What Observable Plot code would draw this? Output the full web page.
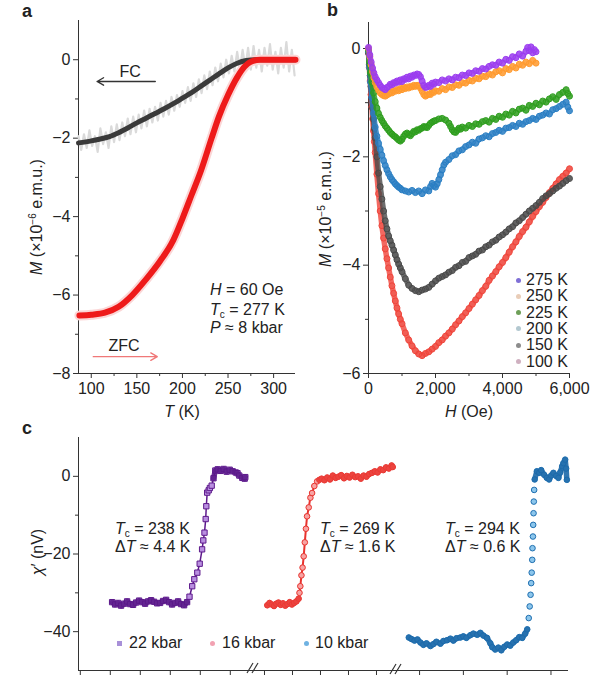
<!DOCTYPE html>
<html><head><meta charset="utf-8">
<script src="https://cdn.jsdelivr.net/npm/d3@7"></script>
<script src="https://cdn.jsdelivr.net/npm/@observablehq/plot@0.6"></script>
<style>
body{margin:0;background:#fff;}
#fig{position:relative;width:600px;height:677px;overflow:hidden;font-family:"Liberation Sans",Arial,Helvetica,sans-serif;color:#222;background:#fff;}
#fig svg{position:absolute;overflow:visible;}
.t{position:absolute;white-space:nowrap;font-size:16px;line-height:16px;}
.lt{font-weight:bold;font-size:18px;line-height:18px;}
.rot{transform:translate(-50%,-50%) rotate(-90deg);}
sub{font-size:10px;vertical-align:-3px;line-height:0;}
sup{font-size:10px;vertical-align:6px;line-height:0;}
i{font-style:italic;}
.mk{position:absolute;width:5px;height:5px;border-radius:50%;}
</style></head><body><div id="fig"></div>
<script>
// ---------- Panel a data (T in K, M in 1e-6 emu) ----------
const fcT  = [86,100,110,120,130,140,150,160,170,180,190,200,210,220,230,240,250,260,270,280,300,324];
const fcM  = [-2.12,-2.07,-2.02,-1.96,-1.86,-1.74,-1.61,-1.49,-1.37,-1.25,-1.12,-0.98,-0.84,-0.68,-0.52,-0.36,-0.21,-0.09,-0.02,0,0,0];
const zfcT = [87,100,115,130,145,160,175,190,200,210,220,232,240,250,260,268,275,285,300,324];
const zfcM = [-6.52,-6.5,-6.45,-6.3,-6.0,-5.6,-5.15,-4.6,-4.05,-3.45,-2.85,-2.0,-1.45,-0.9,-0.45,-0.18,-0.05,0,0,0];
const fcRawT = [86,89,92,95,98,101,104,107,110,113,116,119,122,125,128,131,134,137,140,143,146,149,152,155,158,161,164,167,170,173,176,179,182,185,188,191,194,197,200,203,206,209,212,215,218,221,224,227,230,233,236,239,242,245,248,251,254,257,260,263,266,269,272,275,278,281,284,287,290,293,296,299,302,305,308,311,314,317,320,323];
const fcRawM = [-1.95,-2.30,-1.90,-2.25,-1.80,-2.20,-1.95,-2.35,-1.75,-2.15,-1.85,-2.25,-1.70,-2.10,-1.65,-2.05,-1.60,-1.95,-1.50,-1.90,-1.45,-1.85,-1.40,-1.75,-1.30,-1.70,-1.25,-1.60,-1.20,-1.55,-1.10,-1.45,-1.05,-1.40,-0.95,-1.30,-0.90,-1.20,-0.80,-1.10,-0.70,-1.05,-0.60,-0.95,-0.50,-0.85,-0.40,-0.75,-0.30,-0.65,-0.20,-0.55,-0.10,-0.45,0.00,-0.35,0.10,-0.30,0.20,-0.25,0.25,-0.20,0.30,-0.25,0.35,-0.20,0.25,-0.30,0.30,-0.15,0.40,-0.25,0.20,-0.35,0.30,-0.20,0.45,-0.30,0.25,-0.40];
const aYTicks = [0,-2,-4,-6,-8], aYMinor = [-1,-3,-5,-7];
const aXTicks = [100,150,200,250,300], aXMinor = [125,175,225,275];
const aArrows = [{x1:170.2,x2:106.4,y1:-0.555,y2:-0.555,c:"#333"},{x1:102.2,x2:172.4,y1:-7.57,y2:-7.57,c:"#f07878"}];
const aLabels = [{T:142.6,M:-0.30,s:"FC"},{T:136,M:-7.29,s:"ZFC"}];

// ---------- Panel b data (H in Oe, M in 1e-5 emu) ----------
const b275 = [[0,0.02],[40,-0.12],[80,-0.25],[120,-0.36],[160,-0.45],[200,-0.52],[250,-0.58],[300,-0.63],[350,-0.68],[400,-0.72],[450,-0.74],[500,-0.76],[550,-0.72],[600,-0.70],[650,-0.66],[700,-0.67],[750,-0.63],[800,-0.64],[850,-0.60],[900,-0.62],[950,-0.58],[1000,-0.61],[1050,-0.56],[1100,-0.57],[1150,-0.53],[1200,-0.56],[1250,-0.51],[1300,-0.53],[1350,-0.49],[1400,-0.50],[1450,-0.47],[1500,-0.48],[1550,-0.52],[1600,-0.60],[1650,-0.68],[1700,-0.72],[1750,-0.71],[1800,-0.68],[1850,-0.70],[1900,-0.64],[1950,-0.66],[2000,-0.62],[2100,-0.63],[2200,-0.58],[2300,-0.60],[2400,-0.56],[2500,-0.58],[2600,-0.53],[2700,-0.54],[2800,-0.49],[2900,-0.50],[3000,-0.45],[3100,-0.46],[3200,-0.41],[3300,-0.42],[3400,-0.37],[3500,-0.38],[3600,-0.33],[3700,-0.30],[3800,-0.31],[3900,-0.25],[4000,-0.27],[4100,-0.20],[4200,-0.22],[4300,-0.15],[4400,-0.17],[4500,-0.10],[4600,-0.14],[4700,-0.05],[4750,0.02],[4800,-0.04],[4850,0.03],[4900,-0.08],[4950,-0.02],[5000,-0.06]];
const b250 = [[0,0.0],[40,-0.15],[80,-0.3],[120,-0.43],[160,-0.54],[200,-0.63],[250,-0.71],[300,-0.77],[350,-0.82],[400,-0.85],[450,-0.87],[500,-0.88],[550,-0.86],[600,-0.84],[650,-0.81],[700,-0.82],[750,-0.78],[800,-0.79],[850,-0.76],[900,-0.78],[950,-0.74],[1000,-0.76],[1050,-0.72],[1100,-0.74],[1150,-0.71],[1200,-0.73],[1250,-0.70],[1300,-0.71],[1350,-0.68],[1400,-0.70],[1450,-0.68],[1500,-0.69],[1550,-0.73],[1600,-0.79],[1650,-0.85],[1700,-0.88],[1750,-0.86],[1800,-0.84],[1850,-0.85],[1900,-0.80],[1950,-0.81],[2000,-0.78],[2100,-0.79],[2200,-0.74],[2300,-0.76],[2400,-0.71],[2500,-0.72],[2600,-0.67],[2700,-0.68],[2800,-0.63],[2900,-0.64],[3000,-0.59],[3100,-0.60],[3200,-0.55],[3300,-0.56],[3400,-0.51],[3500,-0.52],[3600,-0.47],[3700,-0.49],[3800,-0.43],[3900,-0.41],[4000,-0.45],[4100,-0.37],[4200,-0.39],[4300,-0.33],[4400,-0.36],[4500,-0.29],[4600,-0.31],[4700,-0.25],[4800,-0.28],[4900,-0.22],[5000,-0.27]];
const b225 = [[0,-0.03],[30,-0.25],[60,-0.45],[100,-0.62],[150,-0.82],[200,-0.98],[250,-1.1],[300,-1.2],[350,-1.27],[400,-1.33],[450,-1.38],[500,-1.43],[550,-1.47],[600,-1.51],[650,-1.55],[700,-1.58],[750,-1.61],[800,-1.63],[850,-1.66],[900,-1.69],[950,-1.71],[1000,-1.68],[1050,-1.62],[1100,-1.58],[1150,-1.56],[1200,-1.59],[1250,-1.61],[1300,-1.57],[1350,-1.53],[1400,-1.54],[1450,-1.50],[1500,-1.51],[1550,-1.48],[1600,-1.47],[1650,-1.44],[1700,-1.45],[1750,-1.46],[1800,-1.42],[1850,-1.38],[1900,-1.36],[1950,-1.34],[2000,-1.33],[2100,-1.30],[2200,-1.29],[2300,-1.32],[2400,-1.38],[2450,-1.44],[2500,-1.50],[2550,-1.54],[2600,-1.55],[2650,-1.51],[2700,-1.47],[2750,-1.49],[2800,-1.45],[2900,-1.47],[3000,-1.42],[3100,-1.44],[3200,-1.39],[3300,-1.40],[3400,-1.35],[3500,-1.33],[3600,-1.36],[3700,-1.29],[3800,-1.31],[3900,-1.25],[4000,-1.27],[4100,-1.21],[4200,-1.23],[4300,-1.16],[4400,-1.19],[4500,-1.12],[4600,-1.10],[4700,-1.14],[4800,-1.05],[4900,-1.07],[5000,-1.01],[5100,-1.04],[5200,-0.97],[5300,-0.99],[5400,-0.93],[5500,-0.89],[5600,-0.94],[5700,-0.85],[5800,-0.81],[5900,-0.76],[5950,-0.83],[6000,-0.88]];
const b200 = [[0,-0.05],[30,-0.35],[60,-0.62],[100,-0.9],[150,-1.2],[200,-1.45],[250,-1.62],[300,-1.75],[350,-1.86],[400,-1.97],[450,-2.07],[500,-2.16],[550,-2.24],[600,-2.31],[650,-2.37],[700,-2.42],[750,-2.46],[800,-2.50],[850,-2.53],[900,-2.56],[950,-2.58],[1000,-2.61],[1100,-2.63],[1200,-2.65],[1300,-2.62],[1400,-2.66],[1500,-2.63],[1600,-2.68],[1700,-2.61],[1800,-2.63],[1850,-2.55],[1900,-2.49],[1950,-2.53],[2000,-2.56],[2050,-2.50],[2100,-2.42],[2150,-2.33],[2200,-2.24],[2250,-2.15],[2300,-2.10],[2400,-2.05],[2500,-1.98],[2600,-1.96],[2700,-1.89],[2800,-1.87],[2900,-1.81],[3000,-1.78],[3100,-1.73],[3200,-1.75],[3300,-1.67],[3400,-1.65],[3500,-1.61],[3600,-1.63],[3700,-1.57],[3800,-1.55],[3900,-1.51],[4000,-1.53],[4100,-1.47],[4200,-1.46],[4300,-1.42],[4400,-1.44],[4500,-1.38],[4600,-1.40],[4700,-1.35],[4800,-1.33],[4900,-1.29],[5000,-1.31],[5100,-1.25],[5200,-1.23],[5300,-1.19],[5400,-1.21],[5500,-1.13],[5600,-1.11],[5700,-1.07],[5800,-1.03],[5900,-0.99],[5950,-1.08],[6000,-1.15]];
const b150 = [[0,-0.08],[25,-0.3],[50,-0.5],[75,-0.7],[100,-0.9],[125,-1.1],[150,-1.3],[175,-1.48],[200,-1.65],[250,-2.0],[300,-2.3],[350,-2.55],[400,-2.78],[450,-3.0],[500,-3.18],[550,-3.33],[600,-3.46],[650,-3.55],[700,-3.63],[750,-3.72],[800,-3.81],[850,-3.9],[900,-3.98],[950,-4.05],[1000,-4.12],[1100,-4.25],[1200,-4.37],[1300,-4.43],[1400,-4.47],[1500,-4.49],[1600,-4.46],[1700,-4.44],[1800,-4.41],[1900,-4.35],[2000,-4.29],[2100,-4.24],[2200,-4.21],[2300,-4.18],[2400,-4.13],[2500,-4.10],[2600,-4.04],[2700,-4.01],[2800,-3.95],[2900,-3.93],[3000,-3.86],[3100,-3.83],[3200,-3.80],[3300,-3.74],[3400,-3.72],[3500,-3.66],[3600,-3.63],[3700,-3.57],[3800,-3.54],[3900,-3.48],[4000,-3.44],[4100,-3.39],[4200,-3.33],[4300,-3.29],[4400,-3.22],[4500,-3.18],[4600,-3.12],[4700,-3.06],[4800,-3.00],[4900,-2.95],[5000,-2.90],[5100,-2.84],[5200,-2.77],[5300,-2.72],[5400,-2.68],[5500,-2.63],[5600,-2.58],[5700,-2.54],[5800,-2.49],[5900,-2.44],[6000,-2.40]];
const b100 = [[0,-0.08],[25,-0.35],[50,-0.6],[75,-0.85],[100,-1.08],[125,-1.3],[150,-1.52],[175,-1.72],[200,-1.92],[250,-2.32],[300,-2.68],[350,-3.0],[400,-3.27],[450,-3.5],[500,-3.7],[550,-3.88],[600,-4.05],[650,-4.22],[700,-4.38],[750,-4.52],[800,-4.66],[850,-4.79],[900,-4.9],[950,-5.0],[1000,-5.08],[1100,-5.25],[1200,-5.38],[1300,-5.49],[1400,-5.58],[1500,-5.64],[1600,-5.67],[1700,-5.63],[1800,-5.60],[1900,-5.55],[2000,-5.50],[2100,-5.43],[2200,-5.38],[2300,-5.31],[2400,-5.25],[2500,-5.18],[2600,-5.10],[2700,-5.03],[2800,-4.95],[2900,-4.88],[3000,-4.80],[3100,-4.72],[3200,-4.64],[3300,-4.56],[3400,-4.47],[3500,-4.39],[3600,-4.28],[3700,-4.20],[3800,-4.12],[3900,-4.03],[4000,-3.95],[4100,-3.86],[4200,-3.76],[4300,-3.66],[4400,-3.57],[4500,-3.47],[4600,-3.38],[4700,-3.30],[4800,-3.20],[4900,-3.10],[5000,-3.01],[5100,-2.92],[5200,-2.84],[5300,-2.75],[5400,-2.66],[5500,-2.58],[5600,-2.50],[5700,-2.42],[5800,-2.36],[5900,-2.30],[6000,-2.22]];
const bLabels = ["275 K","250 K","225 K","200 K","150 K","100 K"];
const bColors = ["#9b3cf0","#ff9a2e","#2e9e1e","#2a7fc4","#4a4a4a","#f0443a"];
const bLegendColors = ["#7f6fd6","#e9cdb8","#6e9f58","#b3c8d0","#8c8c8c","#cfb0c0"];
const bYTicks = [0,-2,-4,-6], bYMinor = [-1,-3,-5];
const bXTicks = [0,2000,4000,6000], bXMinor = [1000,3000,5000];

// ---------- Panel c data (T in K, chi' in nV) ----------
const c22 = [[220.3,-32.4],[220.8,-33.0],[221.3,-32.6],[221.8,-33.3],[222.3,-32.8],[222.8,-32.2],[223.3,-32.9],[223.8,-33.1],[224.3,-32.5],[224.8,-32.0],[225.3,-32.4],[225.8,-32.8],[226.3,-32.2],[226.8,-31.9],[227.3,-32.3],[227.8,-32.7],[228.3,-32.6],[228.8,-32.1],[229.3,-31.8],[229.8,-32.4],[230.3,-33.0],[230.8,-32.6],[231.3,-32.2],[231.8,-32.9],[232.3,-33.2],[232.8,-32.4],[233.2,-31.0],[233.65,-28.3],[234.0,-26.5],[234.5,-24.8],[234.9,-22.5],[235.3,-18.8],[235.5,-16.5],[235.7,-14.5],[235.9,-11.0],[236.0,-7.7],[236.15,-4.2],[236.4,-3.6],[236.6,-3.0],[236.9,-2.4],[237.2,-0.5],[237.5,1.5],[237.9,1.8],[238.4,1.4],[238.9,1.9],[239.4,1.2],[239.9,1.7],[240.4,1.3],[240.9,1.0],[241.2,0.8],[241.5,0.2],[242.0,-0.4],[242.4,-0.6],[242.5,-0.2]];
const c16 = [[260.5,-33.2],[260.9,-32.6],[261.3,-33.0],[261.7,-33.4],[262.1,-32.8],[262.5,-32.5],[262.9,-33.1],[263.3,-32.7],[263.7,-33.3],[264.1,-32.9],[264.5,-32.4],[264.9,-33.0],[265.3,-32.6],[265.7,-32.2],[266.1,-31.5],[266.25,-30.0],[266.4,-28.3],[266.6,-25.5],[266.8,-23.5],[267.0,-20.6],[267.2,-17.0],[267.4,-13.5],[267.6,-10.3],[267.9,-8.0],[268.2,-5.5],[268.5,-4.3],[268.9,-2.5],[269.4,-1.3],[269.8,-0.9],[270.2,-0.6],[270.7,-1.0],[271.2,-0.3],[271.7,-0.8],[272.2,0.2],[272.7,-0.4],[273.2,-0.1],[273.7,0.3],[274.2,-0.5],[274.7,0.1],[275.2,-0.3],[275.7,0.4],[276.2,-0.2],[276.7,0.0],[277.2,-0.6],[277.7,0.2],[278.2,-0.1],[278.7,0.6],[279.2,0.9],[279.7,1.3],[280.2,1.0],[280.7,1.8],[281.2,1.6],[281.7,2.3],[282.2,2.0],[282.7,2.8],[282.9,2.4]];
const c10 = [[283.77,-41.5],[284.08,-41.9],[284.42,-42.3],[284.76,-42.0],[285.10,-42.8],[285.44,-43.4],[285.79,-43.0],[286.24,-43.7],[286.58,-43.2],[286.92,-42.6],[287.38,-43.1],[287.72,-42.4],[288.14,-42.2],[288.52,-41.8],[288.86,-42.3],[289.20,-41.7],[289.66,-41.5],[290.0,-41.2],[290.34,-41.6],[290.80,-40.9],[291.14,-40.5],[291.59,-40.8],[291.94,-40.3],[292.28,-41.0],[292.70,-41.6],[293.08,-43.0],[293.30,-44.0],[293.64,-44.6],[293.99,-44.1],[294.33,-44.8],[294.67,-43.9],[295.01,-43.3],[295.35,-43.6],[295.69,-42.8],[296.03,-42.2],[296.38,-41.4],[296.72,-41.6],[297.06,-40.5],[297.29,-39.4],[297.46,-36.5],[297.57,-33.5],[297.67,-30.5],[297.74,-27.5],[297.80,-24.8],[297.86,-21.5],[297.89,-18.5],[297.94,-15.5],[297.97,-12.5],[298.01,-9.5],[298.04,-6.5],[298.08,-3.5],[298.14,-0.8],[298.39,1.3],[298.66,0.9],[298.88,1.6],[299.22,0.4],[299.53,-0.4],[299.79,-0.8],[300.02,0.2],[300.28,0.9],[300.59,0.1],[300.85,-0.4],[301.05,1.0],[301.28,2.6],[301.42,3.4],[301.62,4.3],[301.73,2.0],[301.81,-0.9]];
const cYTicks = [0,-20,-40], cYMinor = [-10,-30];
const c1Domain = [214.7,243.7], c2Domain = [257.86,283.75], c3Domain = [282.48,302];
const c1Ticks = [215,220,225,230,235,240], c2Ticks = [260,265,270,275,280], c3Ticks = [285,290,295,300];
const cLegend = ["22 kbar","16 kbar","10 kbar"];

// ---------- helpers ----------
const fig = document.getElementById("fig");
const FONT = "Liberation Sans, Arial, Helvetica, sans-serif";
const baseStyle = {fontFamily: FONT, fontSize: "16px", color: "#222", background: "none", overflow: "visible"};
function place(svg, left, top){ svg.style.left = left+"px"; svg.style.top = top+"px"; fig.appendChild(svg); }
function txt(html, left, top, cls="t", align="start"){
  const d = document.createElement("div"); d.className = cls; d.innerHTML = html;
  d.style.left = left+"px"; d.style.top = top+"px";
  if (align === "middle") d.style.transform = "translateX(-50%)";
  fig.appendChild(d); return d;
}
function rot(html, cx, cy){
  const d = document.createElement("div"); d.className = "t rot"; d.innerHTML = html;
  d.style.left = cx+"px"; d.style.top = cy+"px"; fig.appendChild(d);
}
const blank = () => "";
const intFmt = d3.format("d");
const toObj = (arr, k1, k2) => arr.map(d => ({[k1]: d[0], [k2]: d[1]}));

// ---------- Panel a ----------
const fc = fcT.map((t,i)=>({T:t, M:fcM[i]}));
const zfc = zfcT.map((t,i)=>({T:t, M:zfcM[i]}));
const fcRaw = fcRawT.map((t,i)=>({T:t, M:fcRawM[i]}));
place(Plot.plot({
  width: 300, height: 420, marginLeft: 78, marginRight: 5, marginTop: 20, marginBottom: 47,
  style: baseStyle,
  x: {domain: [86, 324]}, y: {domain: [-8, 1]},
  marks: [
    Plot.axisY({ticks: aYTicks, tickSize: 5, tickPadding: 3, label: null, fontSize: 16, tickFormat: intFmt, stroke: "#333"}),
    Plot.axisY({ticks: aYMinor, tickSize: 3, tickFormat: blank, label: null, stroke: "#333"}),
    Plot.axisX({ticks: aXTicks, tickSize: 5, tickPadding: 4, label: null, fontSize: 16, tickFormat: intFmt, stroke: "#333"}),
    Plot.axisX({ticks: aXMinor, tickSize: 3, tickFormat: blank, label: null, stroke: "#333"}),
    Plot.ruleX([86], {stroke: "#333"}), Plot.ruleY([-8], {stroke: "#333"}),
    Plot.line(fcRaw, {x: "T", y: "M", stroke: "#dadada", strokeWidth: 2.2}),
    Plot.line(zfc, {x: "T", y: "M", stroke: "#fbd6d6", strokeWidth: 10, curve: "monotone-x"}),
    Plot.line(fc, {x: "T", y: "M", stroke: "#3a3a3a", strokeWidth: 5, curve: "monotone-x"}),
    Plot.line(zfc, {x: "T", y: "M", stroke: "#ee1a1a", strokeWidth: 6, curve: "monotone-x"}),
    Plot.arrow(aArrows, {x1: "x1", x2: "x2", y1: "y1", y2: "y2", stroke: "c", strokeWidth: 1.4, headLength: 8}),
    Plot.text(aLabels, {x: "T", y: "M", text: "s", fontSize: 16, fill: "#222"})
  ]
}), 0, 0);

// ---------- Panel b ----------
const bSeries = [b100, b150, b200, b225, b250, b275];
const bIdx = [5,4,3,2,1,0];
const bMarks = [];
bSeries.forEach((s, j) => {
  const col = bColors[bIdx[j]];
  const data = toObj(s, "H", "M");
  bMarks.push(Plot.line(data, {x: "H", y: "M", stroke: col, strokeWidth: 5.5, strokeOpacity: 0.8}));
  bMarks.push(Plot.dot(data, {x: "H", y: "M", r: 3, fill: col, fillOpacity: 0.3, stroke: col, strokeWidth: 1}));
});
place(Plot.plot({
  width: 300, height: 420, marginLeft: 68, marginRight: 31, marginTop: 22, marginBottom: 47,
  style: baseStyle,
  x: {domain: [0, 6000]}, y: {domain: [-6, 0.48]},
  marks: [
    Plot.axisY({ticks: bYTicks, tickSize: 5, tickPadding: 3, label: null, fontSize: 16, tickFormat: intFmt, stroke: "#333"}),
    Plot.axisY({ticks: bYMinor, tickSize: 3, tickFormat: blank, label: null, stroke: "#333"}),
    Plot.axisX({ticks: bXTicks, tickSize: 5, tickPadding: 4, label: null, fontSize: 16, tickFormat: d3.format(","), stroke: "#333"}),
    Plot.axisX({ticks: bXMinor, tickSize: 3, tickFormat: blank, label: null, stroke: "#333"}),
    Plot.ruleX([0], {stroke: "#333"}), Plot.ruleY([-6], {stroke: "#333"}),
    ...bMarks
  ]
}), 300, 0);

// ---------- Panel c ----------
const cTop = 400, cH = 277, cMT = 37, cMB = 7;
function cPlot(opts, marks){
  return Plot.plot(Object.assign({height: cH, marginTop: cMT, marginBottom: cMB, style: baseStyle,
    y: {domain: [-50, 10], axis: null}}, opts, {marks}));
}
const d22 = toObj(c22, "T", "X"), d16 = toObj(c16, "T", "X"), d10 = toObj(c10, "T", "X");
// the dense plateaus below and above each step (drawn as a dark band over the markers)
const below = (d, v) => d.filter(p => p.X < v), above = (d, v) => d.filter(p => p.X > v);
const band = (d, lo, hi, col, w) => [
  Plot.line(below(d, lo), {x: "T", y: "X", stroke: col, strokeWidth: w, strokeOpacity: 0.9}),
  Plot.line(above(d, hi), {x: "T", y: "X", stroke: col, strokeWidth: w, strokeOpacity: 0.9})
];
place(cPlot({width: 252, marginLeft: 78, marginRight: 0, x: {domain: c1Domain}}, [
  Plot.axisY({ticks: cYTicks, tickSize: 5, tickPadding: 3, label: null, fontSize: 16, tickFormat: intFmt, stroke: "#333"}),
  Plot.axisY({ticks: cYMinor, tickSize: 3, tickFormat: blank, label: null, stroke: "#333"}),
  Plot.axisX({ticks: c1Ticks, tickSize: 5, tickFormat: blank, label: null, stroke: "#333"}),
  Plot.ruleX([c1Domain[0]], {stroke: "#333"}), Plot.ruleY([-50], {stroke: "#333"}),
  Plot.line(d22, {x: "T", y: "X", stroke: "#5e1a8c", strokeWidth: 1.5}),
  Plot.dot(d22, {x: "T", y: "X", symbol: "square", r: 3, fill: "#b98fe0", stroke: "#5e1a8c", strokeWidth: 1}),
  ...band(d22, -31.5, -1, "#5a1888", 5.5)
]), 0, cTop);
place(cPlot({width: 145, marginLeft: 0, marginRight: 0, x: {domain: c2Domain}}, [
  Plot.axisX({ticks: c2Ticks, tickSize: 5, tickFormat: blank, label: null, stroke: "#333"}),
  Plot.ruleY([-50], {stroke: "#333"}),
  Plot.line(d16, {x: "T", y: "X", stroke: "#e8332e", strokeWidth: 2}),
  Plot.dot(d16, {x: "T", y: "X", r: 2.8, fill: "#f7a3a3", stroke: "#e8332e", strokeWidth: 1}),
  ...band(d16, -31, -1.1, "#ea3a34", 5.5)
]), 252, cTop);
place(cPlot({width: 203, marginLeft: 0, marginRight: 32, x: {domain: c3Domain}}, [
  Plot.axisX({ticks: c3Ticks, tickSize: 5, tickFormat: blank, label: null, stroke: "#333"}),
  Plot.ruleY([-50], {stroke: "#333"}),
  Plot.dot(d10, {x: "T", y: "X", r: 2.8, fill: "#8cc6ec", stroke: "#1f6fb0", strokeWidth: 1}),
  ...band(d10, -39, -1, "#1c68a8", 5.5)
]), 397, cTop);

// axis break marks
const ns = "http://www.w3.org/2000/svg";
const brk = document.createElementNS(ns, "svg");
brk.setAttribute("width", 600); brk.setAttribute("height", 677);
brk.style.left = "0px"; brk.style.top = "0px";
[[247,673,253,663],[252,673,258,663],[390,674,396,664],[395,674,401,664]].forEach(l => {
  const e = document.createElementNS(ns, "line");
  e.setAttribute("x1", l[0]); e.setAttribute("y1", l[1]); e.setAttribute("x2", l[2]); e.setAttribute("y2", l[3]);
  e.setAttribute("stroke", "#333"); e.setAttribute("stroke-width", 1.2); brk.appendChild(e);
});
fig.appendChild(brk);

// ---------- Text ----------
txt("a", 22, 2, "t lt"); txt("b", 327, 1, "t lt"); txt("c", 22, 419, "t lt");
rot("<i>M</i> (×10<sup>−6</sup> e.m.u.)", 37, 217);
rot("<i>M</i> (×10<sup>−5</sup> e.m.u.)", 326, 209);
rot("<i>χ</i>′ (nV)", 38, 552);
txt("<i>T</i> (K)", 182, 404, "t", "middle");
txt("<i>H</i> (Oe)", 469, 404, "t", "middle");
txt("<i>H</i> = 60 Oe", 210, 282);
txt("<i>T</i><sub>c</sub> = 277 K", 210, 302);
txt("<i>P</i> ≈ 8 kbar", 210, 320);
[["238","4.4",115],["269","1.6",320],["294","0.6",445]].forEach(r => {
  txt("<i>T</i><sub>c</sub> = " + r[0] + " K", r[2], 521);
  txt("Δ<i>T</i> ≈ " + r[1] + " K", r[2], 539);
});
// panel b legend
bLabels.forEach((s, i) => {
  const cy = 280 + 16.3 * i;
  const m = document.createElement("div"); m.className = "mk";
  m.style.left = "516px"; m.style.top = (cy - 2.5) + "px"; m.style.background = bLegendColors[i];
  fig.appendChild(m);
  txt(s, 526, cy - 8);
});
// panel c legend
const cLegX = [[119,129,"#a890d8"],[212,222,"#f2a2b2"],[306,315,"#6fb2e2"]];
cLegend.forEach((s, i) => {
  const [mx, tx, col] = cLegX[i];
  const m = document.createElement("div"); m.className = "mk";
  m.style.left = (mx - 2.5) + "px"; m.style.top = (643 - 2.5) + "px"; m.style.background = col;
  if (i === 0) m.style.borderRadius = "0";
  fig.appendChild(m);
  txt(s, tx, 635);
});
</script></body></html>
